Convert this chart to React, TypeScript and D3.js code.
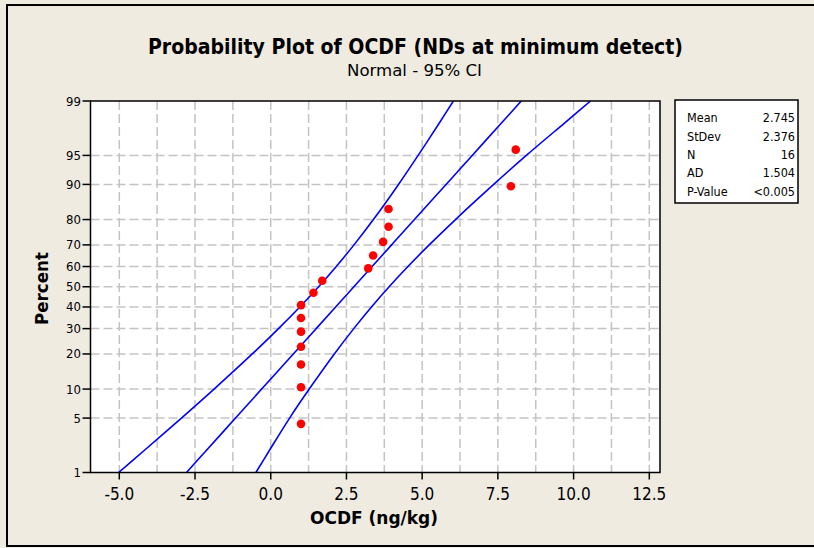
import React from "react";
import * as d3 from "d3";

// ---- data ----
const xTickValues = [-5, -2.5, 0, 2.5, 5, 7.5, 10, 12.5];
const xGridValues = [-5, -3.75, -2.5, -1.25, 0, 1.25, 2.5, 3.75, 5, 6.25, 7.5, 8.75, 10, 11.25, 12.5];
const yTickPercents = [1, 5, 10, 20, 30, 40, 50, 60, 70, 80, 90, 95, 99];
const yGridPercents = [5, 10, 20, 30, 40, 50, 60, 70, 80, 90, 95];

const ocdfValues = [1.0, 1.0, 1.0, 1.0, 1.0, 1.0, 1.0, 1.41, 1.7, 3.22, 3.38, 3.71, 3.89, 3.89, 7.93, 8.09];
const plotPercents = [4.3, 10.4, 16.5, 22.6, 28.7, 34.8, 40.9, 47.0, 53.0, 59.1, 65.2, 71.3, 77.4, 83.5, 89.6, 95.7];

const ciPercents = [1, 2, 5, 10, 20, 30, 40, 50, 60, 70, 80, 90, 95, 98, 99];
const fitLine = [-2.782, -2.135, -1.163, -0.3, 0.745, 1.499, 2.143, 2.745, 3.347, 3.991, 4.745, 5.79, 6.653, 7.625, 8.272];
const lowerBand = [-5.023, -4.188, -2.949, -1.871, -0.61, 0.257, 0.96, 1.581, 2.164, 2.749, 3.39, 4.219, 4.867, 5.572, 6.031];
const upperBand = [-0.49, -0.05, 0.623, 1.271, 2.1, 2.741, 3.326, 3.909, 4.53, 5.233, 6.1, 7.361, 8.439, 9.71, 10.56];

const statLabels = ["Mean", "StDev", "N", "AD", "P-Value"];
const statValues = ["2.745", "2.376", "16", "1.504", "<0.005"];

// inverse standard normal CDF (Acklam)
function probit(p: number): number {
  const a = [-3.969683028665376e1, 2.209460984245205e2, -2.759285104469687e2, 1.38357751867269e2, -3.066479806614716e1, 2.506628277459239];
  const b = [-5.447609879822406e1, 1.615858368580409e2, -1.556989798598866e2, 6.680131188771972e1, -1.328068155288572e1];
  const c = [-7.784894002430293e-3, -3.223964580411365e-1, -2.400758277161838, -2.549671010229528, 4.374664141464968, 2.938163982698783];
  const d = [7.784695709100167e-3, 3.224671290700398e-1, 2.445134137142996, 3.754408661907416];
  const plow = 0.02425;
  if (p < plow) {
    const q = Math.sqrt(-2 * Math.log(p));
    return (((((c[0] * q + c[1]) * q + c[2]) * q + c[3]) * q + c[4]) * q + c[5]) / ((((d[0] * q + d[1]) * q + d[2]) * q + d[3]) * q + 1);
  }
  if (p > 1 - plow) {
    const q = Math.sqrt(-2 * Math.log(1 - p));
    return -(((((c[0] * q + c[1]) * q + c[2]) * q + c[3]) * q + c[4]) * q + c[5]) / ((((d[0] * q + d[1]) * q + d[2]) * q + d[3]) * q + 1);
  }
  const q = p - 0.5;
  const r = q * q;
  return ((((((a[0] * r + a[1]) * r + a[2]) * r + a[3]) * r + a[4]) * r + a[5]) * q) / (((((b[0] * r + b[1]) * r + b[2]) * r + b[3]) * r + b[4]) * r + 1);
}

const W = 814;
const H = 548;
const PL = 90.5, PR = 660, PT = 101, PB = 472.5;
const FONT = "'DejaVu Sans Condensed', 'Liberation Sans', sans-serif";
const BG = "#efebe1";

const fmtX = (v: number) => d3.format(".1f")(v).replace("\u2212", "-");

export default function App() {
  const x = d3.scaleLinear().domain([-5.951, 12.853]).range([PL, PR]);
  const zScale = d3.scaleLinear().domain([probit(0.01), probit(0.99)]).range([PB, PT]);
  const y = (pct: number) => zScale(probit(pct / 100));

  const mkLine = (vals: number[]) =>
    d3
      .line<number>()
      .x((v) => x(v))
      .y((_, i) => y(ciPercents[i]))
      .curve(d3.curveCatmullRom)(vals) || "";

  return (
    <svg width={W} height={H} style={{ position: "absolute", left: 0, top: 0 }} fontFamily={FONT}>
      <rect x={0} y={0} width={W} height={H} fill={BG} />
      <rect x={7} y={5} width={W + 10} height={541} fill="none" stroke="#000" strokeWidth={2} />
      <defs>
        <clipPath id="plotclip">
          <rect x={PL} y={PT} width={PR - PL} height={PB - PT} />
        </clipPath>
      </defs>

      <text x={415.5} y={54} textAnchor="middle" fontSize={21} fontWeight="bold" textLength={535} lengthAdjust="spacingAndGlyphs">
        Probability Plot of OCDF (NDs at minimum detect)
      </text>
      <text x={414.5} y={76} textAnchor="middle" fontSize={15} textLength={135} lengthAdjust="spacingAndGlyphs">
        Normal - 95% CI
      </text>

      <rect x={PL} y={PT} width={PR - PL} height={PB - PT} fill="#fff" />

      {/* grid */}
      <g stroke="#c3c3c3" strokeWidth={1.5} strokeDasharray="9,4">
        {xGridValues.map((v) => (
          <line key={"gx" + v} x1={x(v)} x2={x(v)} y1={PT} y2={PB} />
        ))}
        {yGridPercents.map((p) => (
          <line key={"gy" + p} x1={PL} x2={PR} y1={y(p)} y2={y(p)} />
        ))}
      </g>

      {/* CI lines */}
      <g clipPath="url(#plotclip)" fill="none" stroke="#0000ff" strokeWidth={1.6}>
        <path d={mkLine(lowerBand)} />
        <path d={mkLine(fitLine)} />
        <path d={mkLine(upperBand)} />
      </g>

      {/* points */}
      <g fill="#ff0000">
        {ocdfValues.map((v, i) => (
          <circle key={"p" + i} cx={x(v)} cy={y(plotPercents[i])} r={4.3} />
        ))}
      </g>

      <rect x={PL} y={PT} width={PR - PL} height={PB - PT} fill="none" stroke="#000" strokeWidth={1.5} />

      {/* x axis */}
      <g>
        {xTickValues.map((v) => (
          <g key={"xt" + v}>
            <line x1={x(v)} x2={x(v)} y1={PB} y2={PB + 7} stroke="#000" strokeWidth={1.5} />
            <text x={x(v)} y={500} textAnchor="middle" fontSize={17}>
              {fmtX(v)}
            </text>
          </g>
        ))}
      </g>
      <text x={374} y={524} textAnchor="middle" fontSize={17} fontWeight="bold" textLength={128} lengthAdjust="spacingAndGlyphs">
        OCDF (ng/kg)
      </text>

      {/* y axis */}
      <g>
        {yTickPercents.map((p) => (
          <g key={"yt" + p}>
            <line x1={PL - 8} x2={PL} y1={y(p)} y2={y(p)} stroke="#000" strokeWidth={1.5} />
            <text x={PL - 9.5} y={y(p) + 4.5} textAnchor="end" fontSize={13}>
              {p}
            </text>
          </g>
        ))}
      </g>
      <text
        transform="translate(48,288.5) rotate(-90)"
        textAnchor="middle"
        fontSize={18}
        fontWeight="bold"
        textLength={73}
        lengthAdjust="spacingAndGlyphs"
      >
        Percent
      </text>

      {/* stats box */}
      <rect x={675} y={100} width={123} height={103} fill="#fff" stroke="#000" strokeWidth={1.5} />
      {statLabels.map((s, i) => (
        <g key={"s" + s} fontSize={12.5}>
          <text x={687} y={122.3 + i * 18.35}>{s}</text>
          <text x={795} y={122.3 + i * 18.35} textAnchor="end">
            {statValues[i]}
          </text>
        </g>
      ))}
    </svg>
  );
}
